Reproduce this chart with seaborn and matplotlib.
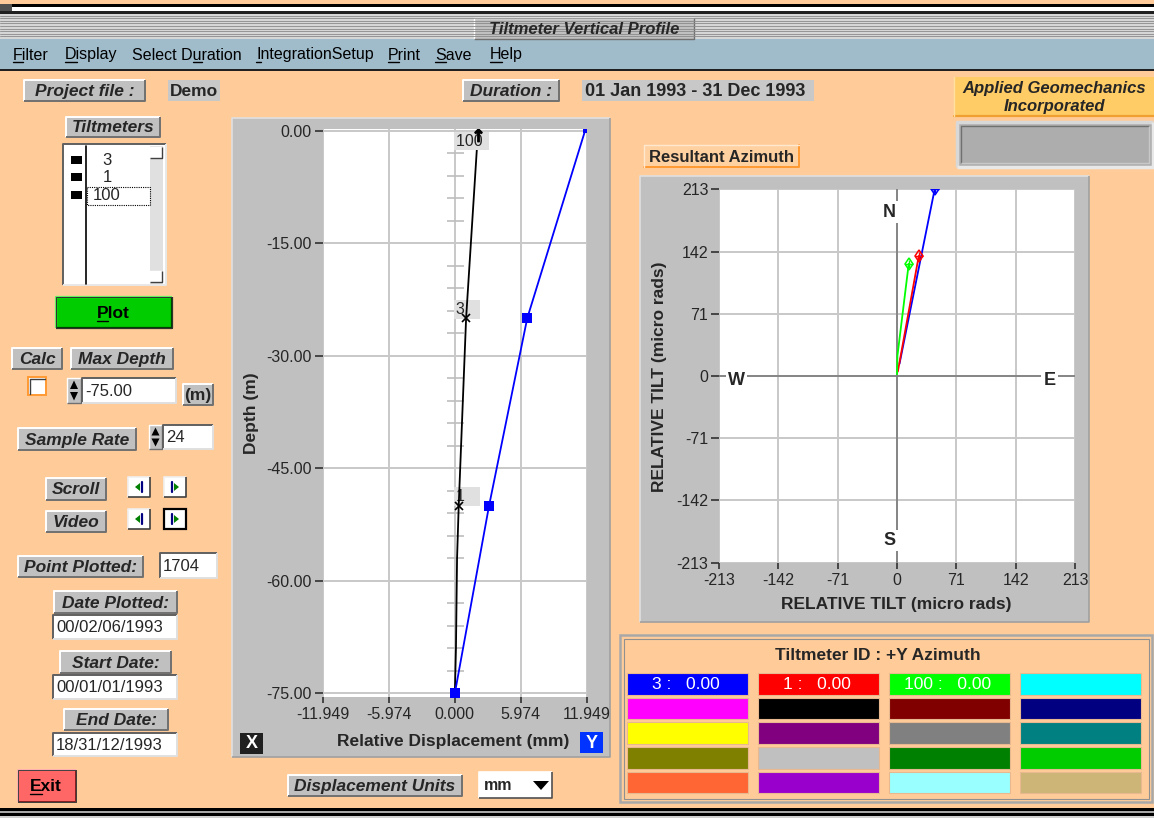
import numpy as np
import pandas as pd
import matplotlib
matplotlib.use("Agg")
import matplotlib.pyplot as plt
from matplotlib.patches import Rectangle, Polygon
from matplotlib.font_manager import FontProperties
import seaborn as sns

# ---------------- data ----------------
# Vertical profile: cumulative displacement (mm) against depth (m)
profile_depth_m = [0.0, -25.0, -50.0, -75.0]
disp_y_mm = [11.8, 6.56, 3.1, 0.0]
disp_x_depth_m = [0.0, -25.0, -50.0, -57.0, -69.0, -75.0]
disp_x_mm = [2.1, 1.02, 0.35, 0.2, 0.1, 0.0]

# Tiltmeters in the string
tiltmeter_ids = ["3", "1", "100"]
tiltmeter_depth_m = [-25.0, -50.0, 0.0]
tiltmeter_colors = ["#0000FF", "#FF0000", "#00FF00"]
tiltmeter_azimuth = [0.00, 0.00, 0.00]

# Resultant tilt paths (east, north) in micro radians
tilt_east_3 = [3.0, 45.0]
tilt_north_3 = [14.0, 213.0]
tilt_east_1 = [1.0, 26.0]
tilt_north_1 = [5.0, 137.0]
tilt_east_100 = [0.0, 0.5, 14.0]
tilt_north_100 = [2.0, 23.0, 128.0]

depth_ticks = [0.0, -15.0, -30.0, -45.0, -60.0, -75.0]
disp_ticks = [-11.949, -5.974, 0.0, 5.974, 11.949]
tilt_ticks = [-213, -142, -71, 0, 71, 142, 213]
station_marks_m = [-3, -6, -9, -12, -18, -21, -24, -27, -33, -36, -39, -42,
                   -48, -51, -54, -57, -63, -66, -69, -72]

swatch_colors = ["#0000FF", "#FF0000", "#00FF00", "#00FFFF",
                 "#FF00FF", "#000000", "#800000", "#000080",
                 "#FFFF00", "#800080", "#808080", "#008080",
                 "#808000", "#C0C0C0", "#008000", "#00CC00",
                 "#FF6633", "#9900CC", "#99FFFF", "#CCB577"]

menu_items = ["Filter", "Display", "Select Duration", "IntegrationSetup", "Print", "Save", "Help"]
menu_keys = [0, 0, 8, 0, 0, 0, 0]

# ---------------- style ----------------
W, H, DPI = 1154, 818, 100
PEACH = "#FFCC99"
GRAY = "#C0C0C0"
sns.set_style("white")
FAM = ["Liberation Sans", "DejaVu Sans"]
plt.rcParams["font.family"] = FAM
plt.rcParams["font.size"] = 11.5
plt.rcParams["axes.unicode_minus"] = False

fig = plt.figure(figsize=(W / DPI, H / DPI), dpi=DPI)
fig.patch.set_facecolor(PEACH)
bg = fig.add_axes([0, 0, 1, 1])
bg.set_xlim(0, W)
bg.set_ylim(H, 0)
bg.axis("off")
renderer = fig.canvas.get_renderer()

BI = dict(family=FAM, weight="bold", style="italic", size=12.5)
BOLD = dict(family=FAM, weight="bold", size=12.5)
REG = dict(family=FAM, size=12)


def ax_at(x0, y0, x1, y1):
    return fig.add_axes([x0 / W, 1 - y1 / H, (x1 - x0) / W, (y1 - y0) / H])


def box(x, y, w, h, fc, ec="none", lw=0, z=2, ls="-"):
    bg.add_patch(Rectangle((x, y), w, h, fc=fc, ec=ec, lw=lw, zorder=z, ls=ls))


def bevel(x, y, w, h, fc, raised=True, lw=1.4, light="#FFFFFF", dark="#707070", z=2):
    box(x, y, w, h, fc, z=z)
    tl, br = (light, dark) if raised else (dark, light)
    bg.plot([x, x, x + w], [y + h, y, y], color=tl, lw=lw, zorder=z + 0.1, solid_capstyle="butt")
    bg.plot([x, x + w, x + w], [y + h, y + h, y], color=br, lw=lw, zorder=z + 0.1, solid_capstyle="butt")


def label_button(x, y, w, h, s, size=12.5, style="italic"):
    bevel(x, y, w, h, GRAY)
    bg.text(x + w / 2, y + h / 2 + 1, s, ha="center", va="center", zorder=3,
            **{**BI, "size": size, "style": style})


def field(x, y, w, h, s, ha="left", bold=False):
    bevel(x, y, w, h, "white", raised=False, dark="#606060", light="#E0E0E0")
    font = BOLD if bold else REG
    tx = x + 3 if ha == "left" else x + w / 2
    bg.text(tx, y + h / 2 + 1, s, ha=ha, va="center", zorder=3, **font)


def text_width(s, font):
    prop = FontProperties(family=font.get("family"), weight=font.get("weight", "normal"),
                          style=font.get("style", "normal"), size=font.get("size"))
    return renderer.get_text_width_height_descent(s, prop, ismath=False)[0]


def mnemonic(x, y, s, idx, font, ha="left", color="black"):
    bg.text(x, y, s, ha=ha, va="baseline", color=color, zorder=4, **font)
    left = x - text_width(s, font) / 2 if ha == "center" else x
    u0 = left + text_width(s[:idx], font) if idx else left
    u1 = left + text_width(s[:idx + 1], font)
    bg.plot([u0, u1], [y + 2.5, y + 2.5], color=color, lw=1.0, zorder=4)


# ---------------- window frame ----------------
box(0, 3.5, 12, 7, "#505050")
box(12, 4, W - 12, 2.5, "black")
box(12, 6.5, W - 12, 4.5, "white")
box(0, 11, W, 2.5, "#202020")
box(0, 13.5, W, 25.5, "#D6D6D6")
for yy in np.arange(15.5, 38, 2.6):
    bg.plot([0, W], [yy, yy], color="#8A8A8A", lw=0.6, zorder=2.2)
bevel(474, 18, 220, 21, GRAY, lw=1.0)
bg.text(584, 29, "Tiltmeter Vertical Profile", ha="center", va="center", zorder=3, **{**BI, "size": 12})

box(0, 39, W, 29.5, "#A0BCCB")
box(0, 68.5, W, 2, "#202020")
menu_x = [13, 65, 132, 256, 388, 435, 490]
for mx, item, key in zip(menu_x, menu_items, menu_keys):
    mnemonic(mx, 59.5, item, key, dict(family=FAM, size=11.5))

# bottom frame
box(0, 808, W, 2.5, "black")
box(0, 810.5, W, 2.5, "#A8A8A8")
box(0, 813, W, 2.5, "black")
box(0, 815.5, W, 3, "#D0D0D0")

# ---------------- header row ----------------
label_button(24, 80, 121, 21, "Project file :")
box(168, 80, 52, 21, "#C8C8C8")
bg.text(194, 91, "Demo", ha="center", va="center", zorder=3, **BOLD)
label_button(463, 80, 96, 21, "Duration :")
box(582, 80, 232, 21, "#C8C8C8")
bg.text(585, 91, "01 Jan 1993 - 31 Dec 1993", ha="left", va="center", zorder=3, **{**BOLD, "size": 13})

box(954, 77, 200, 39, "#FFCC66")
bg.plot([954, W], [116, 116], color="#F0A030", lw=1.6, zorder=3)
bg.plot([954, 954], [77, 116], color="#FFE0A0", lw=1.0, zorder=3)
bg.text(1054, 88, "Applied Geomechanics", ha="center", va="center", zorder=3, **{**BI, "size": 12})
bg.text(1054, 106.5, "Incorporated", ha="center", va="center", zorder=3, **{**BI, "size": 12})
bevel(957, 122, 196, 45, "#ADADAD", lw=2.5, light="#D8D8D8", dark="#E8E8E8")
bevel(961, 126, 188, 37, "#ADADAD", lw=1.0, light="#707070", dark="#C8C8C8")

# ---------------- left control column ----------------
label_button(66, 117, 94, 20, "Tiltmeters")
bevel(63, 144, 103, 141, "white", raised=False, dark="#606060", light="#E8E8E8")
bg.plot([86, 86], [146, 284], color="black", lw=1.2, zorder=3)
box(150, 146, 13, 138, "#E0E0E0", z=2.5)
bevel(150, 147, 12, 11, "white", lw=1.0, dark="#404040", z=2.6)
bevel(150, 271, 12, 11, "white", lw=1.0, dark="#404040", z=2.6)
for yy, tid in zip([159.5, 177, 195], ["3", "1", "100"]):
    box(70.5, yy - 4, 11.5, 8, "black", z=3)
    bg.text(107, yy + 1, tid, ha="center", va="center", zorder=3, **REG)
box(87, 186.5, 63, 18.5, "none", ec="black", lw=0.8, z=3.5, ls=(0, (1, 1)))

bevel(56, 297, 116, 31, "#00CC00", lw=1.6, light="#60F060", dark="#004000")
box(56, 297, 116, 31, "none", ec="#303030", lw=0.7, z=2.3)
mnemonic(113, 318, "Plot", 0, {**BOLD, "size": 12.5}, ha="center")

label_button(12, 348, 50, 21, "Calc")
label_button(71, 348, 102, 21, "Max Depth")
box(28, 377, 18, 18, "white", ec="#FF9933", lw=1.4, z=3)
bg.plot([29.5, 29.5, 44.5], [393.5, 378.5, 378.5], color="#404040", lw=1.0, zorder=3.2)


def spinner(x, y, w, h):
    bevel(x, y, w, h, GRAY, lw=1.0)
    cx = x + w / 2
    bg.add_patch(Polygon([(cx - 4, y + h / 2 - 1.5), (cx + 4, y + h / 2 - 1.5), (cx, y + 2.5)],
                         closed=True, fc="black", ec="none", zorder=3))
    bg.add_patch(Polygon([(cx - 4, y + h / 2 + 1.5), (cx + 4, y + h / 2 + 1.5), (cx, y + h - 2.5)],
                         closed=True, fc="black", ec="none", zorder=3))


spinner(67, 378, 14, 25)
field(82, 378, 94, 25, "-75.00")
label_button(183, 384, 30, 21, "(m)", style="normal")

label_button(18, 428, 118, 22, "Sample Rate")
spinner(149, 425, 13, 24)
field(163, 425, 50, 24, "24")


def arrow_button(x, y, direction, pressed=False):
    bevel(x, y, 22, 20, "white", lw=1.2, dark="#404040", light="#F0F0F0")
    if pressed:
        box(x, y, 22, 20, "none", ec="black", lw=1.6, z=2.4)
    cx, cy = x + 11, y + 10
    if direction < 0:
        tri = [(cx + 1, cy - 4), (cx + 1, cy + 4), (cx - 4, cy)]
        bar = cx + 3
    else:
        tri = [(cx - 1, cy - 4), (cx - 1, cy + 4), (cx + 4, cy)]
        bar = cx - 3
    bg.add_patch(Polygon(tri, closed=True, fc="#008000", ec="none", zorder=3))
    bg.plot([bar, bar], [cy - 5, cy + 5], color="#000080", lw=1.6, zorder=3)


label_button(46, 478, 60, 22, "Scroll")
arrow_button(128, 477, -1)
arrow_button(164, 477, 1)
label_button(46, 511, 60, 21, "Video")
arrow_button(128, 509, -1)
arrow_button(164, 509, 1, pressed=True)

label_button(18, 556, 125, 21, "Point Plotted:")
field(160, 553, 57, 25, "1704")
label_button(54, 591, 123, 22, "Date Plotted:")
field(53, 615, 124, 24, "00/02/06/1993")
label_button(60, 651, 111, 22, "Start Date:")
field(53, 675, 124, 24, "00/01/01/1993")
label_button(64, 709, 104, 21, "End Date:")
field(53, 733, 124, 23, "18/31/12/1993")

bevel(18, 770, 58, 32, "#FF6666", lw=1.4, light="#FFB0B0", dark="#802020")
box(18, 770, 58, 32, "none", ec="#404040", lw=0.7, z=2.3)
mnemonic(46, 791, "Exit", 0, {**BOLD, "size": 12.5}, ha="center")

# ---------------- vertical profile ----------------
bevel(232, 118, 378, 639, GRAY, lw=1.2, light="#E0E0E0", dark="#A0A0A0")
ax1 = ax_at(323, 129, 586.7, 697)
ax1.set_facecolor("white")
prof = pd.DataFrame({
    "depth": disp_x_depth_m + profile_depth_m,
    "disp": disp_x_mm + disp_y_mm,
    "component": ["X"] * len(disp_x_mm) + ["Y"] * len(disp_y_mm),
})
ax1.grid(True, color="#C8C8C8", lw=1.4)
ax1.set_axisbelow(True)
ax1.hlines(station_marks_m, -0.7, 0.8, color="#BEBEBE", lw=1.2, zorder=1.5)
sns.lineplot(data=prof, x="disp", y="depth", hue="component",
             palette={"X": "black", "Y": "#0000FF"}, sort=False, estimator=None,
             orient="y", legend=False, lw=1.3, ax=ax1, zorder=3)
sns.scatterplot(x=disp_y_mm[1:], y=profile_depth_m[1:], marker="s", s=42,
                color="#0000FF", linewidth=0, ax=ax1, zorder=4)
sns.scatterplot(x=disp_y_mm[:1], y=profile_depth_m[:1], marker="s", s=12,
                color="#0000FF", linewidth=0, ax=ax1, zorder=4)
# tiltmeter positions on the X trace
for tid, d in zip(tiltmeter_ids, tiltmeter_depth_m):
    xd = disp_x_mm[disp_x_depth_m.index(d)]
    if d >= 0:
        ax1.plot(xd, d - 0.6, marker=r"$\uparrow$", ms=9, color="black", zorder=5)
        ax1.annotate(tid + " ", (0, d), xytext=(0.5, -2), textcoords="offset points",
                     ha="left", va="top", fontsize=11.5, zorder=3.5,
                     bbox=dict(boxstyle="square,pad=0.12", fc="#E0E0E0", ec="none"))
    else:
        ax1.plot(xd, d, marker="x", ms=5.5, mew=1.2, color="black", zorder=5)
        ax1.annotate(tid + "   ", (0, d), xytext=(0.5, 1), textcoords="offset points",
                     ha="left", va="bottom", fontsize=11.5, zorder=2.5,
                     bbox=dict(boxstyle="square,pad=0.12", fc="#E0E0E0", ec="none"))
ax1.set_xlim(-11.949, 11.949)
ax1.set_ylim(-75.5, 0.23)
ax1.set_xticks(disp_ticks)
ax1.set_xticklabels([f"{v:.3f}" for v in disp_ticks])
ax1.set_yticks(depth_ticks)
ax1.set_yticklabels([f"{v:.2f}" for v in depth_ticks])
ax1.tick_params(axis="x", direction="out", length=4.5, width=1.2, color="#303030", pad=2.5, labelsize=11.5)
ax1.tick_params(axis="y", direction="out", length=6, width=1.2, color="#303030", pad=2, labelsize=11.5)
ax1.tick_params(left=True, bottom=True)
for sp in ax1.spines.values():
    sp.set_visible(False)
ax1.set_xlabel("Relative Displacement (mm)", **BOLD)
ax1.xaxis.set_label_coords(0.493, -0.079)
ax1.xaxis.label.set_va("center")
ax1.set_ylabel("Depth (m)", **BOLD)
ax1.yaxis.set_label_coords(-0.272, 0.5)
ax1.yaxis.label.set_va("center")

box(240, 733, 23, 21, "#202020", z=3)
bg.text(251.5, 744, "X", ha="center", va="center", color="white", zorder=4, **{**BOLD, "size": 13})
box(580, 732, 23, 21, "#0033FF", z=3)
bg.text(591.5, 743, "Y", ha="center", va="center", color="white", zorder=4, **{**BOLD, "size": 13})

label_button(288, 775, 174, 21, "Displacement Units")
bevel(479, 772, 73, 26, "white", raised=True, lw=1.2, dark="#505050")
bg.text(484, 786, "mm", ha="left", va="center", zorder=3, **{**BOLD, "size": 11.5})
bg.add_patch(Polygon([(533, 781), (549, 781), (541, 790)], closed=True, fc="black", ec="none", zorder=3))

# ---------------- resultant azimuth ----------------
box(644, 145, 155, 22, "#FFD0A0", z=2)
bg.plot([644, 799, 799], [167, 167, 145], color="#FF9933", lw=1.4, zorder=2.2)
bg.plot([644, 644, 799], [167, 145, 145], color="#FFE8D0", lw=1.0, zorder=2.2)
bg.text(721.5, 157, "Resultant Azimuth", ha="center", va="center", zorder=3, **{**BOLD, "size": 12})

bevel(640, 176, 449, 446, GRAY, lw=1.2, light="#E0E0E0", dark="#A0A0A0")
ax2 = ax_at(718.7, 189.3, 1075.3, 562.7)
ax2.set_facecolor("white")
ax2.grid(True, color="#C8C8C8", lw=1.4)
ax2.set_axisbelow(True)
ax2.axhline(0, color="#808080", lw=1.3, zorder=1.6)
ax2.axvline(0, color="#808080", lw=1.3, zorder=1.6)
tilt = pd.DataFrame({
    "east": tilt_east_3 + tilt_east_1 + tilt_east_100,
    "north": tilt_north_3 + tilt_north_1 + tilt_north_100,
    "tiltmeter": (["3"] * len(tilt_east_3) + ["1"] * len(tilt_east_1)
                  + ["100"] * len(tilt_east_100)),
})
palette = dict(zip(tiltmeter_ids, tiltmeter_colors))
sns.lineplot(data=tilt, x="east", y="north", hue="tiltmeter", palette=palette,
             sort=False, estimator=None, legend=False, lw=1.3, ax=ax2, zorder=3)
for ex, ny, col in zip([tilt_east_3[-1], tilt_east_1[-1], tilt_east_100[-1]],
                       [tilt_north_3[-1], tilt_north_1[-1], tilt_north_100[-1]],
                       tiltmeter_colors):
    ax2.plot(ex, ny, marker="d", ms=6, mfc="none", mec=col, mew=1.1, zorder=4)
    ax2.plot(ex, ny, marker="+", ms=6, mec=col, mew=1.0, zorder=4)
for s, (cx, cy) in {"N": (-9, 187), "S": (-9, -188), "W": (-192, -5), "E": (182, -5)}.items():
    ax2.text(cx, cy, s, ha="center", va="center", zorder=5, **{**BOLD, "size": 13},
             bbox=dict(boxstyle="square,pad=0.12", fc="white", ec="none"))
ax2.set_xlim(-213, 213)
ax2.set_ylim(-213, 213)
ax2.set_xticks(tilt_ticks)
ax2.set_yticks(tilt_ticks)
ax2.set_xticklabels([str(v) for v in tilt_ticks])
ax2.set_yticklabels([str(v) for v in tilt_ticks])
ax2.tick_params(axis="x", direction="out", length=4.5, width=1.2, color="#303030", pad=3, labelsize=11.5)
ax2.tick_params(axis="y", direction="out", length=6, width=1.2, color="#303030", pad=1.5, labelsize=11.5)
ax2.tick_params(left=True, bottom=True)
for sp in ax2.spines.values():
    sp.set_visible(False)
ax2.set_xlabel("RELATIVE TILT (micro rads)", **BOLD)
ax2.xaxis.set_label_coords(0.499, -0.113)
ax2.xaxis.label.set_va("center")
ax2.set_ylabel("RELATIVE TILT (micro rads)", **BOLD)
ax2.yaxis.set_label_coords(-0.165, 0.498)
ax2.yaxis.label.set_va("center")

# ---------------- tiltmeter colour key ----------------
box(620, 635, 532, 167, "none", ec="#A8A8A8", lw=1.8, z=2)
box(623.5, 638.5, 525, 160, "none", ec="#909090", lw=0.8, z=2)
bg.text(878, 655, "Tiltmeter ID : +Y Azimuth", ha="center", va="center", zorder=3, **BOLD)
col_x = [627, 758, 889, 1020]
row_y = [673, 697.5, 722, 747, 771.5]
cell_w, cell_h = 121, 21.5
for k, col in enumerate(swatch_colors):
    r, c = divmod(k, 4)
    box(col_x[c], row_y[r], cell_w, cell_h, col, ec="#E8B890", lw=0.8, z=2)
for k, (tid, az) in enumerate(zip(tiltmeter_ids, tiltmeter_azimuth)):
    bg.text(col_x[k] + cell_w / 2 - 2, row_y[0] + cell_h / 2 + 1, f"{tid} :   {az:.2f}",
            ha="center", va="center", color="white", zorder=3,
            **{**BOLD, "size": 12.5, "weight": "normal"})

fig.savefig("out.png", dpi=DPI, facecolor=PEACH)
